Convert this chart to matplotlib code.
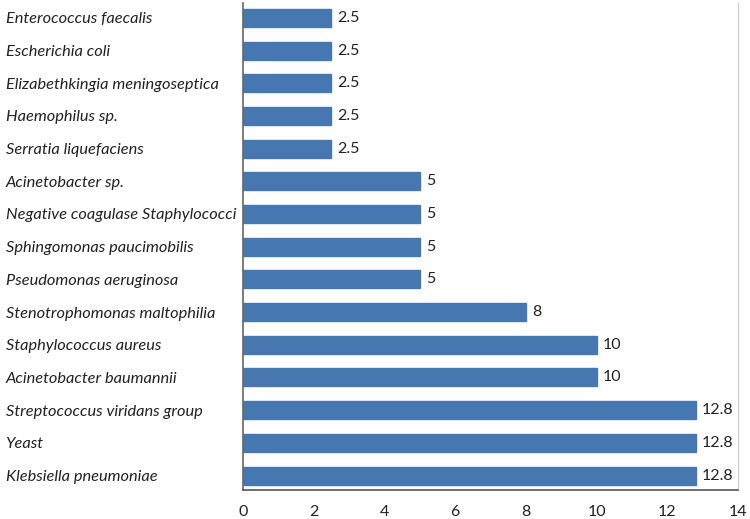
import matplotlib
matplotlib.use("Agg")
import matplotlib.pyplot as plt

categories = [
    "Enterococcus faecalis",
    "Escherichia coli",
    "Elizabethkingia meningoseptica",
    "Haemophilus sp.",
    "Serratia liquefaciens",
    "Acinetobacter sp.",
    "Negative coagulase Staphylococci",
    "Sphingomonas paucimobilis",
    "Pseudomonas aeruginosa",
    "Stenotrophomonas maltophilia",
    "Staphylococcus aureus",
    "Acinetobacter baumannii",
    "Streptococcus viridans group",
    "Yeast",
    "Klebsiella pneumoniae",
]
values = [2.5, 2.5, 2.5, 2.5, 2.5, 5, 5, 5, 5, 8, 10, 10, 12.8, 12.8, 12.8]
value_labels = ["2.5", "2.5", "2.5", "2.5", "2.5", "5", "5", "5", "5", "8", "10", "10", "12.8", "12.8", "12.8"]
xticks = [0, 2, 4, 6, 8, 10, 12, 14]

plt.rcParams['font.family'] = ['Lato', 'DejaVu Sans']

fig = plt.figure(figsize=(7.5, 5.19), dpi=100)
ax = fig.add_axes([0.324, 0.056, 0.66, 0.938])

y = list(range(len(categories)))
ax.barh(y, values, height=0.55, color='#4677b0', edgecolor='#4677b0')
for yi, v, lab in zip(y, values, value_labels):
    ax.text(v + 0.17, yi, lab, va='center', ha='left', fontsize=11.5, color='#222222')

ax.set_ylim(14.44, -0.45)
ax.set_xlim(0, 14)
ax.set_xticks(xticks)
ax.set_xticklabels([str(t) for t in xticks], fontsize=11.5, color='#222222')
ax.set_yticks(y)
ax.set_yticklabels(categories, fontsize=11.8, style='italic', color='#222222', ha='left')
ax.tick_params(axis='y', length=0, pad=171)
ax.tick_params(axis='x', length=0, pad=11)

ax.spines['top'].set_visible(False)
ax.spines['right'].set_color('#cccccc')
ax.spines['left'].set_color('#666666')
ax.spines['bottom'].set_color('#555555')
ax.spines['left'].set_linewidth(1.2)
ax.spines['bottom'].set_linewidth(1.2)

fig.savefig('out.png', dpi=100, facecolor='white')
